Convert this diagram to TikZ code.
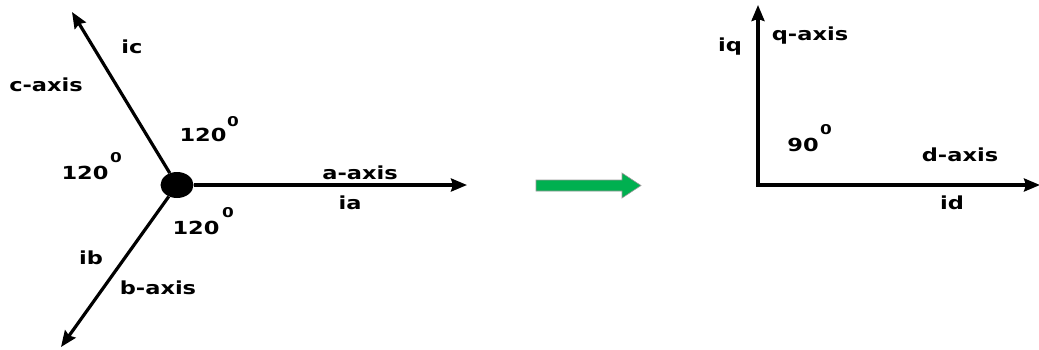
\documentclass[tikz,border=0pt]{standalone}
\usepackage{fontspec}
\setmainfont{DejaVu Sans}
\usetikzlibrary{arrows.meta,shapes.geometric}
\definecolor{arrowgreen}{RGB}{0,176,80}
\newcommand{\wide}[1]{\scalebox{1.25}[1]{#1}}
\tikzset{
  axis/.style={line width=3.2pt, -{Stealth[length=16pt,width=13pt,inset=2pt]}},
  lbl/.style={inner sep=0pt, font=\fontsize{18}{20}\selectfont\bfseries},
  deg/.style={inner sep=0pt, font=\fontsize{13.5}{15}\selectfont\bfseries},
}
\begin{document}
\begin{tikzpicture}[x=1pt,y=-1pt]
\useasboundingbox (0,0) rectangle (1039,349);

% three-phase axes
\node[ellipse, fill=black, minimum width=33pt, minimum height=26pt, inner sep=0pt] (O) at (177,185) {};
\coordinate (A) at (467,185);
\coordinate (C) at (72,12);
\coordinate (B) at (61,347);
\draw[axis] (O.east) -- (A);
\draw[axis] (O) -- (C);
\draw[axis] (O) -- (B);

\node[lbl] (lic) at (132,47) {\wide{ic}};
\node[lbl] (lcax) at (46,85) {\wide{c-axis}};
\node[lbl] (ang1) at (203,135) {\wide{120}};
\node[deg] (ang1d) at (233,122) {\wide{0}};
\node[lbl] (ang2) at (85,173) {\wide{120}};
\node[deg] (ang2d) at (116,158) {\wide{0}};
\node[lbl] (ang3) at (196,228) {\wide{120}};
\node[deg] (ang3d) at (228,213) {\wide{0}};
\node[lbl] (laax) at (360,173) {\wide{a-axis}};
\node[lbl] (lia) at (350,203) {\wide{ia}};
\node[lbl] (lib) at (91,258) {\wide{ib}};
\node[lbl] (lbax) at (158,288) {\wide{b-axis}};

% transformation arrow
\draw[draw=black!40, line width=0.6pt, fill=arrowgreen]
  (536,180) -- (622,180) -- (622,173) -- (641,185.5) -- (622,198) -- (622,191) -- (536,191) -- cycle;

% two-phase axes
\coordinate (Q0) at (758,185);
\coordinate (Q) at (758,5);
\coordinate (D) at (1040,185);
\draw[axis] ([xshift=-1.6pt]Q0) -- (D);
\draw[axis] ([yshift=1.6pt]Q0) -- (Q);

\node[lbl] (liq) at (730,47) {\wide{iq}};
\node[lbl] (lqax) at (810,36) {\wide{q-axis}};
\node[lbl] (ang4) at (803,145) {\wide{90}};
\node[deg] (ang4d) at (826,130) {\wide{0}};
\node[lbl] (ldax) at (960,155) {\wide{d-axis}};
\node[lbl] (lid) at (952,203) {\wide{id}};
\end{tikzpicture}
\end{document}
